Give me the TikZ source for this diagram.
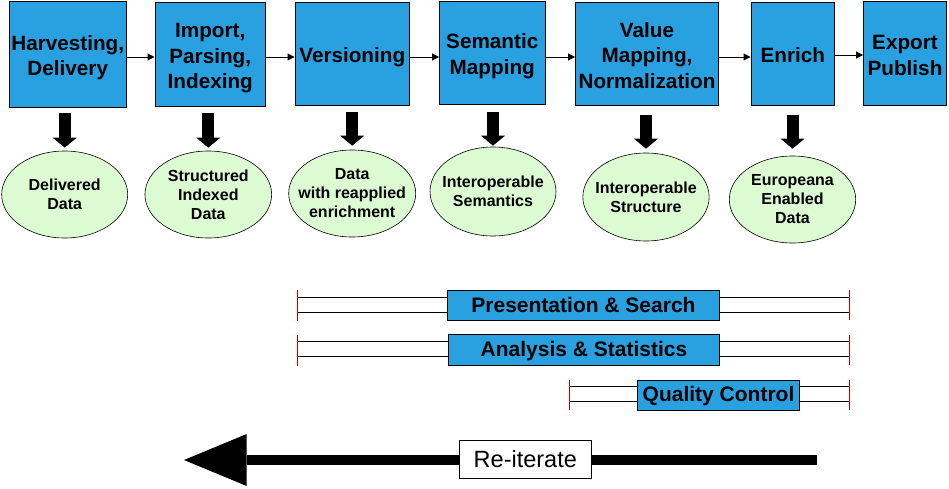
\documentclass[tikz,border=0pt]{standalone}
\usepackage{fontspec}
\setmainfont{Liberation Sans}
\usetikzlibrary{shapes.geometric,arrows.meta,calc}
\definecolor{boxblue}{RGB}{41,161,225}
\definecolor{ellgreen}{RGB}{221,251,211}
\definecolor{tickred}{RGB}{190,0,0}
\newcommand{\stagetext}[1]{\raisebox{-9pt}[0pt][0pt]{\begin{tabular}{@{}c@{}}#1\end{tabular}}}
\begin{document}
\begin{tikzpicture}[x=1pt,y=-1pt,
 stage/.style={draw=black,line width=0.9pt,fill=boxblue,inner sep=0pt,font=\bfseries\fontsize{20.7}{25.5}\selectfont},
 result/.style={ellipse,draw=black,line width=0.6pt,fill=ellgreen,inner xsep=-12pt,inner ysep=0pt,align=center,font=\bfseries\fontsize{16}{19}\selectfont},
 flow/.style={-{Triangle[length=7pt,width=7pt]},line width=0.9pt},
 produce/.style={line width=12pt,-{Triangle[length=10pt,width=24pt,line width=0pt]}},
 barbox/.style={draw=black,line width=0.9pt,fill=boxblue,inner sep=0pt,text height=16pt,text depth=3pt,font=\bfseries\fontsize{21}{25}\selectfont},
 barline/.style={line width=0.8pt},
 tickmark/.style={draw=tickred,line width=0.9pt},
 iterbox/.style={draw=black,line width=0.9pt,fill=white,inner sep=0pt,font=\fontsize{23.5}{28}\selectfont}
]
\useasboundingbox (0,0) rectangle (949,489);

% process stages
\node[stage,minimum width=117.5pt,minimum height=105.5pt] (b1) at (67.75,54.25) {\stagetext{Harvesting,\\Delivery}};
\node[stage,minimum width=110.5pt,minimum height=104pt] (b2) at (210.25,54.5) {\stagetext{Import,\\Parsing,\\Indexing}};
\node[stage,minimum width=114.5pt,minimum height=103pt] (b3) at (352.25,54) {\stagetext{Versioning}};
\node[stage,minimum width=105.5pt,minimum height=103pt] (b4) at (492.25,52.5) {\stagetext{Semantic\\Mapping}};
\node[stage,minimum width=143pt,minimum height=103pt] (b5) at (647,54) {\stagetext{Value\\Mapping,\\Normalization}};
\node[stage,minimum width=83.5pt,minimum height=103pt] (b6) at (792.75,54) {\stagetext{Enrich}};
\node[stage,minimum width=83pt,minimum height=104pt] (b7) at (905,53.5) {\stagetext{Export\\Publish}};

\draw[flow] (b1.east |- 0,57) -- (b2.west |- 0,57);
\draw[flow] (b2.east |- 0,57) -- (b3.west |- 0,57);
\draw[flow] (b3.east |- 0,57) -- (b4.west |- 0,57);
\draw[flow] (b4.east |- 0,57) -- (b5.west |- 0,57);
\draw[flow] (b5.east |- 0,57) -- (b6.west |- 0,57);
\draw[flow] (b6.east |- 0,55) -- (b7.west |- 0,55);

% results
\node[result,minimum width=126pt,minimum height=87pt] (e1) at (64.7,194.5) {Delivered\\Data};
\node[result,minimum width=126.7pt,minimum height=87pt] (e2) at (208.3,194.5) {Structured\\Indexed\\Data};
\node[result,minimum width=127pt,minimum height=87pt] (e3) at (352.2,193.5) {Data\\with reapplied\\enrichment};
\node[result,minimum width=126pt,minimum height=89pt] (e4) at (493,191.5) {Interoperable\\Semantics};
\node[result,minimum width=126.3pt,minimum height=88pt] (e5) at (646,197) {Interoperable\\Structure};
\node[result,minimum width=126.4pt,minimum height=87pt] (e6) at (792.5,199.5) {Europeana\\Enabled\\Data};

\draw[produce] ($(e1.north |- b1.south)+(0,6)$) -- ($(e1.north)+(0,-3)$);
\draw[produce] ($(e2.north |- b2.south)+(0,6.5)$) -- ($(e2.north)+(0,-3)$);
\draw[produce] ($(e3.north |- b3.south)+(0,6.5)$) -- ($(e3.north)+(0,-4)$);
\draw[produce] ($(e4.north |- b4.south)+(0,8)$) -- ($(e4.north)+(0,-1)$);
\draw[produce] ($(e5.north |- b5.south)+(0,9.5)$) -- ($(e5.north)+(0,-4)$);
\draw[produce] ($(e6.north |- b6.south)+(0,9.5)$) -- ($(e6.north)+(0,-7)$);

% cross-cutting bars
\coordinate (psL) at (297,305.5);
\coordinate (psR) at (849,305.5);
\coordinate (asL) at (297,350);
\coordinate (asR) at (849,350);
\coordinate (qcL) at (569.5,395);
\coordinate (qcR) at (849,395);

\draw[barline] ($(psL)+(0,-8)$) -- ($(psR)+(0,-8)$);
\draw[barline] ($(psL)+(0,7)$) -- ($(psR)+(0,7)$);
\draw[tickmark] ($(psL)+(0,-15.5)$) -- ($(psL)+(0,15)$);
\draw[tickmark] ($(psR)+(0,-16)$) -- ($(psR)+(0,14)$);
\node[barbox,minimum width=272pt,minimum height=30pt] (ps) at (583.5,305.5) {Presentation \& Search};

\draw[barline] ($(asL)+(0,-8.5)$) -- ($(asR)+(0,-8.5)$);
\draw[barline] ($(asL)+(0,6.5)$) -- ($(asR)+(0,6.5)$);
\draw[tickmark] ($(asL)+(0,-15.5)$) -- ($(asL)+(0,16)$);
\draw[tickmark] ($(asR)+(0,-15.5)$) -- ($(asR)+(0,15)$);
\node[barbox,minimum width=271pt,minimum height=31pt] (as) at (584,350) {Analysis \& Statistics};

\draw[barline] ($(qcL)+(0,-9)$) -- ($(qcR)+(0,-9)$);
\draw[barline] ($(qcL)+(0,6.5)$) -- ($(qcR)+(0,6.5)$);
\draw[tickmark] ($(qcL)+(0,-15)$) -- ($(qcL)+(0,15)$);
\draw[tickmark] ($(qcR)+(0,-15)$) -- ($(qcR)+(0,15)$);
\node[barbox,minimum width=162pt,minimum height=30pt] (qc) at (718.5,395) {Quality Control};

% re-iterate arrow
\coordinate (itS) at (817,460);
\coordinate (itE) at (184,460);
\draw[line width=10pt,-{Triangle[length=62.7pt,width=52pt,line width=0pt]}] (itS) -- (itE);
\node[iterbox,minimum width=132.7pt,minimum height=38.3pt] (it) at (525.3,459.2) {Re-iterate};
\end{tikzpicture}
\end{document}
